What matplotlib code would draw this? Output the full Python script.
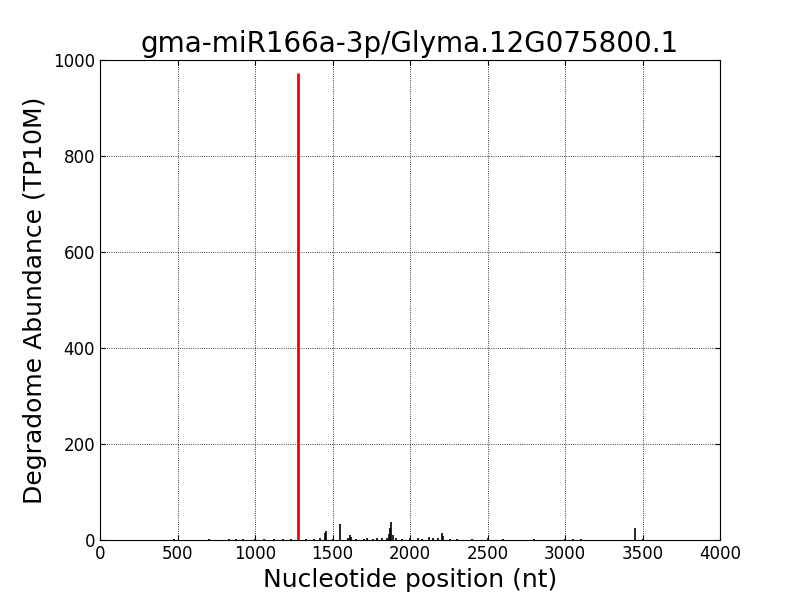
import matplotlib
matplotlib.use("Agg")
import matplotlib.pyplot as plt

# degradome reads (position, abundance)
positions = [230, 480, 620, 700, 760, 830, 880, 920, 1000, 1060, 1120, 1180, 1230,
             1330, 1380, 1420, 1450, 1460, 1500, 1548, 1600, 1610, 1620, 1650,
             1700, 1720, 1760, 1790, 1820, 1850, 1865, 1872, 1880, 1890, 1910, 1950,
             2000, 2050, 2080, 2120, 2150, 2180, 2205, 2215, 2260, 2300, 2400,
             2500, 2600, 2700, 2800, 2950, 3000, 3050, 3100, 3450, 3500]
abundance = [1, 2, 1, 2, 1, 2, 3, 2, 3, 2, 2, 3, 2,
             2, 3, 4, 15, 18, 2, 34, 5, 10, 6, 3,
             3, 4, 3, 4, 5, 4, 12, 25, 38, 10, 4, 3,
             5, 4, 3, 6, 5, 4, 14, 8, 3, 2, 2,
             4, 2, 1, 2, 1, 3, 2, 2, 26, 3]
site_pos = 1277
site_val = 973

fig = plt.figure(figsize=(8, 6), dpi=100)
ax = fig.add_axes([0.125, 0.1, 0.775, 0.8])
ax.vlines(positions, 0, abundance, colors='k', linewidth=1.2)
ax.vlines([site_pos], 0, [site_val], colors='r', linewidth=2)
ax.set_xlim(0, 4000)
ax.set_ylim(0, 1000)
ax.set_xticks(range(0, 4001, 500))
ax.set_yticks(range(0, 1001, 200))
ax.grid(True, color='k', linestyle=':', linewidth=0.6)
ax.tick_params(labelsize=12, direction='in', top=True, right=True)
ax.set_title("gma-miR166a-3p/Glyma.12G075800.1", fontsize=20)
ax.set_xlabel("Nucleotide position (nt)", fontsize=18)
ax.set_ylabel("Degradome Abundance (TP10M)", fontsize=18)
fig.savefig("out.png", dpi=100)
